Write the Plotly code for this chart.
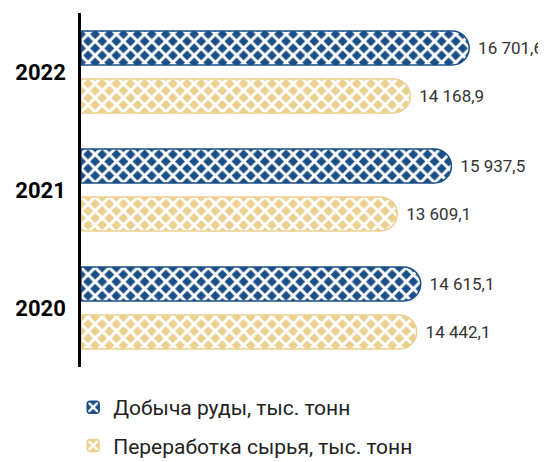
import plotly.graph_objects as go

years = ["2022", "2021", "2020"]
ore_mining = [16701.6, 15937.5, 14615.1]
ore_processing = [14168.9, 13609.1, 14442.1]
ore_labels = ["16 701,6", "15 937,5", "14 615,1"]
proc_labels = ["14 168,9", "13 609,1", "14 442,1"]

BLUE = "#1b4f87"
TAN = "#ebd08f"

fig = go.Figure()

fig.add_trace(go.Bar(
    y=years, x=ore_mining, orientation="h",
    name="Добыча руды, тыс. тонн",
    text=["\u00a0\u200a" + t for t in ore_labels], textposition="outside",
    marker=dict(color=BLUE, line=dict(color=BLUE, width=1.5), cornerradius=17,
                pattern=dict(shape="x", fgcolor="white", bgcolor=BLUE, fgopacity=1,
                             size=10, solidity=0.5)),
    legendgroup="a",
))
fig.add_trace(go.Bar(
    y=years, x=ore_processing, orientation="h",
    name="Переработка сырья, тыс. тонн",
    text=["\u00a0\u200a" + t for t in proc_labels], textposition="outside",
    marker=dict(color=TAN, line=dict(color=TAN, width=1.5), cornerradius=17,
                pattern=dict(shape="x", fgcolor="white", bgcolor=TAN, fgopacity=1,
                             size=10, solidity=0.5)),
    legendgroup="b",
))

fig.update_traces(textfont=dict(family="Roboto", size=17, color="#333333"),
                  cliponaxis=False, constraintext="none")

# page body has an 8px margin, so the figure is drawn a bit smaller
fig.update_layout(
    width=538, height=454,
    margin=dict(l=73, r=6, t=5, b=95, autoexpand=False),
    plot_bgcolor="white", paper_bgcolor="white",
    barmode="group", bargap=0.186, bargroupgap=0.29,
    font=dict(family="Roboto", color="#222222"),
    xaxis=dict(range=[0, 19750], visible=False, automargin=False),
    yaxis=dict(categoryorder="array", categoryarray=years, autorange="reversed",
               showline=True, linecolor="black", linewidth=2.5, showgrid=False,
               ticks="", ticklabelstandoff=8, automargin=False,
               tickfont=dict(family="Roboto", size=22, color="black", weight="bold")),
    legend=dict(x=-0.017, y=0.165, yref="container", xanchor="left", yanchor="top",
                orientation="v",
                font=dict(family="Roboto", size=21, color="#222222"),
                tracegroupgap=8, itemwidth=30),
    showlegend=True,
)

fig.write_html("out.html")
